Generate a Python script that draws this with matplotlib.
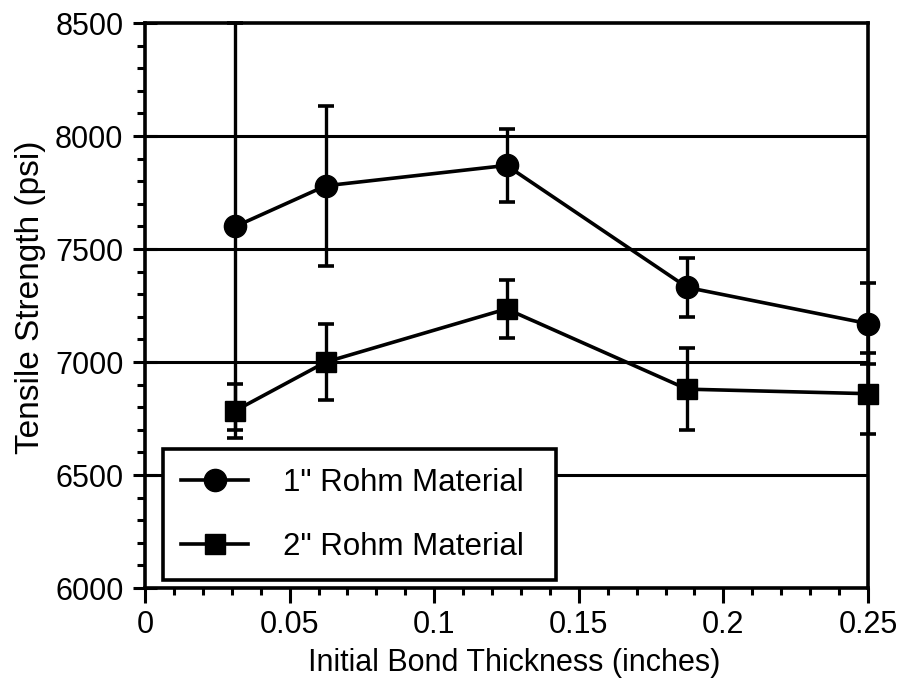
import numpy as np
import matplotlib
matplotlib.use("Agg")
import matplotlib.pyplot as plt
from matplotlib.ticker import MultipleLocator, FuncFormatter

plt.rcParams["font.family"] = ["Liberation Sans", "DejaVu Sans"]

# Data
thickness = [0.03125, 0.0625, 0.125, 0.1875, 0.25]
rohm1_strength = [7600, 7780, 7870, 7330, 7170]
rohm1_err = [900, 355, 160, 130, 180]
rohm2_strength = [6785, 7000, 7235, 6880, 6860]
rohm2_err = [120, 170, 130, 180, 180]
grid_levels = [6500, 7000, 7500, 8000]

fig = plt.figure(figsize=(9.04, 6.78), dpi=100)
ax = fig.add_axes([0.1604, 0.1327, 0.7998, 0.8333])

for g in grid_levels:
    ax.axhline(g, color="black", linewidth=2.2, zorder=1)

e1 = ax.errorbar(thickness, rohm1_strength, yerr=rohm1_err, color="black",
                 marker="o", markersize=16, linewidth=2.6, elinewidth=2.4,
                 capsize=6, capthick=2.6, zorder=3, clip_on=False)
e2 = ax.errorbar(thickness, rohm2_strength, yerr=rohm2_err, color="black",
                 marker="s", markersize=15, linewidth=2.6, elinewidth=2.4,
                 capsize=6, capthick=2.6, zorder=3, clip_on=False)

ax.set_xlim(0, 0.25)
ax.set_ylim(6000, 8500)
ax.xaxis.set_major_locator(MultipleLocator(0.05))
ax.xaxis.set_minor_locator(MultipleLocator(0.01))
ax.yaxis.set_major_locator(MultipleLocator(500))
ax.yaxis.set_minor_locator(MultipleLocator(100))
ax.xaxis.set_major_formatter(FuncFormatter(lambda v, p: "%g" % round(v, 3)))

ax.tick_params(axis="x", which="major", direction="out", length=11, width=2.2,
               labelsize=22, pad=5)
ax.tick_params(axis="x", which="minor", direction="out", length=5, width=2.2)
ax.tick_params(axis="y", which="major", direction="inout", length=17,
               width=2.2, labelsize=22, pad=7)
ax.tick_params(axis="y", which="minor", direction="out", length=6, width=2.2)
ax.tick_params(top=False, right=False)
for s in ax.spines.values():
    s.set_linewidth(2.6)

ax.set_xlabel("Initial Bond Thickness (inches)", fontsize=22)
ax.set_ylabel("Tensile Strength (psi)", fontsize=24)
ax.xaxis.set_label_coords(0.51, -0.106)
ax.yaxis.set_label_coords(-0.137, 0.515)

leg = ax.legend([e1[0], e2[0]], ['1" Rohm Material', '2" Rohm Material'],
                loc="lower left", bbox_to_anchor=(0.025, 0.014, 0.544, 0.2),
                mode="expand", fontsize=22.5, frameon=True, fancybox=False,
                borderpad=0.58, labelspacing=1.1, handlelength=2.15,
                handletextpad=1.1, borderaxespad=0.0)
leg.get_frame().set_edgecolor("black")
leg.get_frame().set_linewidth(2.6)
leg.get_frame().set_alpha(1)
leg.set_zorder(5)

fig.savefig("out.png", dpi=100)
